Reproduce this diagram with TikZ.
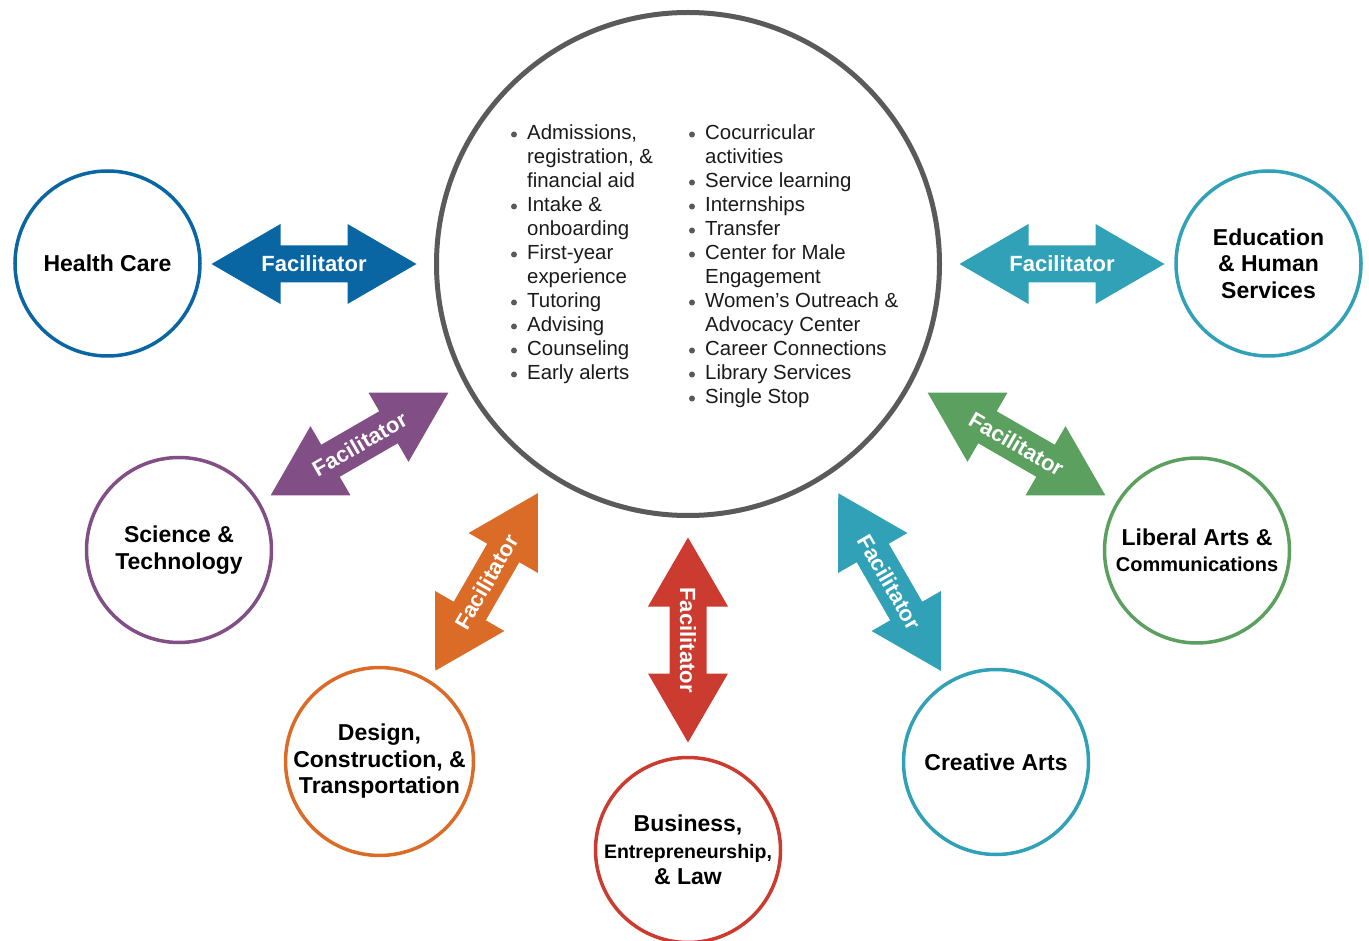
\documentclass[tikz,border=0pt]{standalone}
\usepackage{fontspec}
\setmainfont{Liberation Sans}
\definecolor{hcblue}{HTML}{0A65A3}
\definecolor{edteal}{HTML}{30A1B6}
\definecolor{stpurple}{HTML}{814E85}
\definecolor{lagreen}{HTML}{5BA05F}
\definecolor{dcorange}{HTML}{DB6C28}
\definecolor{bzred}{HTML}{CB3B2F}
\definecolor{hubgray}{HTML}{5A5A5C}
\definecolor{txt}{HTML}{1A1A1A}
\tikzset{
  pics/facil/.style={code={
    \fill[#1] (-102.5,0) -- (-33.5,40) -- (-33.5,18.5) -- (33.5,18.5) -- (33.5,40) -- (102.5,0)
      -- (33.5,-40) -- (33.5,-18.5) -- (-33.5,-18.5) -- (-33.5,-40) -- cycle;
    \node[faciltext] (-label) at (0,0) {Facilitator};
  }},
  faciltext/.style={transform shape, text=white, inner sep=0pt,
    font=\bfseries\fontsize{22}{26}\selectfont},
  field/.style={circle, draw=#1, line width=3.5pt, minimum size=185pt, inner sep=0pt,
    align=center, text=black, font=\bfseries\fontsize{23}{26.5}\selectfont},
  listtext/.style={anchor=base west, inner sep=0pt, text=txt,
    font=\fontsize{20.4}{24}\selectfont},
  hubstyle/.style={circle, draw=hubgray, line width=5pt, minimum size=503pt, inner sep=0pt}
}
\begin{document}
\begin{tikzpicture}[x=1pt,y=-1pt]
\useasboundingbox (0,0) rectangle (1369,941);
% hub
\node[hubstyle] (hub) at (688,264) {};
% left column
\foreach \b/\t [count=\i] in {1/{Admissions,},0/{registration, \&},0/{financial aid},1/{Intake \&},0/{onboarding},1/{First-year},0/{experience},1/{Tutoring},1/{Advising},1/{Counseling},1/{Early alerts}}{
  \node[listtext] (l\i) at (527,{140+24*(\i-1)}) {\t};
  \ifnum\b=1 \fill[hubgray] (514,{134.5+24*(\i-1)}) circle (3); \fi
}
% right column
\foreach \b/\t [count=\i] in {1/{Cocurricular},0/{activities},1/{Service learning},1/{Internships},1/{Transfer},1/{Center for Male},0/{Engagement},1/{Women’s Outreach \&},0/{Advocacy Center},1/{Career Connections},1/{Library Services},1/{Single Stop}}{
  \node[listtext] (r\i) at (705,{140+24*(\i-1)}) {\t};
  \ifnum\b=1 \fill[hubgray] (692,{134.5+24*(\i-1)}) circle (3); \fi
}
% fields
\node[field=hcblue] (health) at (107.5,263.5) {Health Care};
\node[field=edteal] (edu) at (1268.5,263.5) {Education\\\& Human\\Services};
\node[field=stpurple] (sci) at (179,550) {Science \&\\Technology};
\node[field=lagreen] (lib) at (1197,550.5) {Liberal Arts \&\\{\fontsize{20}{26.5}\selectfont Communications}};
\node[field=dcorange] (des) at (379.5,761.5) {Design,\\Construction, \&\\Transportation};
\node[field=edteal] (cre) at (996,762) {Creative Arts};
\node[field=bzred] (bus) at (688,850) {Business,\\{\fontsize{19.5}{26.5}\selectfont Entrepreneurship,}\\\& Law};
% facilitator arrows
\pic (ahc) at (314,264) {facil=hcblue};
\pic (aed) at (1062,264) {facil=edteal};
\pic[rotate=30] (ast) at (359.5,444) {facil=stpurple};
\pic[rotate=-30] (ala) at (1016.5,444) {facil=lagreen};
\pic[rotate=60] (adc) at (486.5,582) {facil=dcorange};
\pic[rotate=-60] (acr) at (889.5,582) {facil=edteal};
\pic[rotate=-90] (abz) at (688,640) {facil=bzred};
\end{tikzpicture}
\end{document}
